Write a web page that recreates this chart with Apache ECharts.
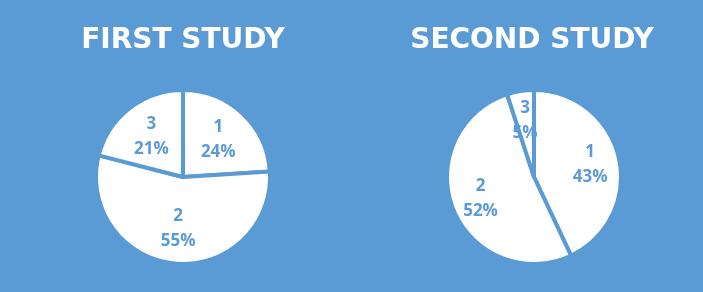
<!DOCTYPE html>
<html>
<head>
<meta charset="utf-8">
<script src="https://cdn.jsdelivr.net/npm/echarts@6/dist/echarts.min.js"></script>
<style>
html,body{margin:0;padding:0;background:#5b9bd5;}
#main{width:703px;height:292px;}
</style>
</head>
<body>
<div id="main"></div>
<script>
var categories=["1","2","3"];
var firstStudy=[24,55,21];
var secondStudy=[43,52,5];
var titles=["FIRST STUDY","SECOND STUDY"];

var bg="#5b9bd5";
var chart=echarts.init(document.getElementById("main"));

function toData(vals){
    return categories.map(function(c,i){return {name:c,value:vals[i]};});
}

function pieSeries(vals,cx){
    return {
        type:"pie",
        center:[cx,177],
        radius:[0,87],
        startAngle:90,
        silent:true,
        itemStyle:{color:"#fff",borderColor:bg,borderWidth:4},
        label:{show:false},
        labelLine:{show:false},
        data:toData(vals)
    };
}

// invisible ring only used to move the labels along the radius
function labelSeries(vals,cx,inner){
    return {
        type:"pie",
        center:[cx,177],
        radius:[inner,87],
        startAngle:90,
        silent:true,
        itemStyle:{color:"rgba(0,0,0,0)",borderWidth:0},
        label:{
            show:true,
            position:"inside",
            formatter:"{b}\n{d}%",
            color:bg,
            fontFamily:"Open Sans",
            fontWeight:"bold",
            fontSize:17,
            lineHeight:25
        },
        labelLine:{show:false},
        data:toData(vals)
    };
}

var titleStyle={color:"#fff",fontFamily:"DejaVu Sans",fontWeight:"bold",fontSize:28};
var option={
    backgroundColor:bg,
    animation:false,
    title:[
        {text:titles[0],left:178,top:22,textAlign:"center",textStyle:titleStyle},
        {text:titles[1],left:527,top:22,textAlign:"center",textStyle:titleStyle}
    ],
    series:[
        pieSeries(firstStudy,183),
        pieSeries(secondStudy,534),
        labelSeries(firstStudy,183,10),
        labelSeries(secondStudy,534,22)
    ]
};
chart.setOption(option);
</script>
</body>
</html>
